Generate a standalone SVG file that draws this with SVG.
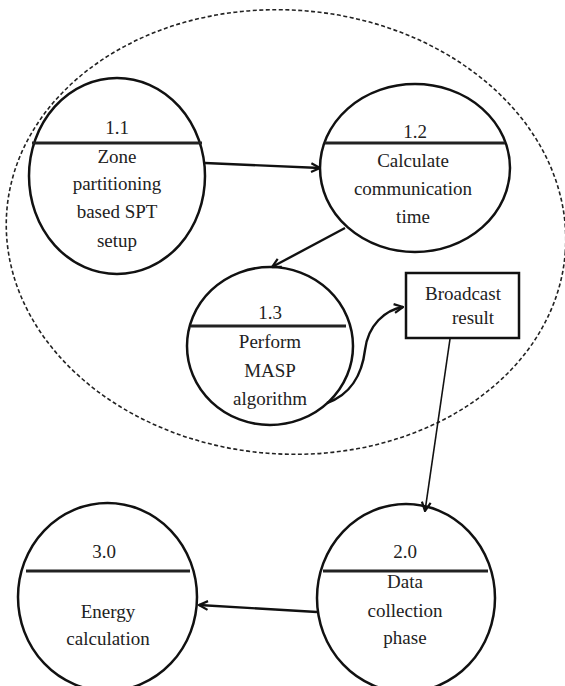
<svg xmlns="http://www.w3.org/2000/svg" width="565" height="686" viewBox="0 0 565 686">
<defs>
<style>
.proc{fill:none;stroke:#111;stroke-width:2.5}
.div{stroke:#222;stroke-width:3.2}
.t{font-size:19px;fill:#222;text-anchor:middle}
.c{fill:none;stroke:#111;stroke-width:2.4}
.thin{fill:none;stroke:#111;stroke-width:1.6}
.bound{fill:none;stroke:#222;stroke-width:1.6;stroke-dasharray:4 2.5}
</style>
<marker id="ah" viewBox="0 0 10 10" refX="9" refY="5" markerWidth="11" markerHeight="11" markerUnits="userSpaceOnUse" orient="auto">
<path d="M1,1 L9,5 L1,9" fill="none" stroke="#111" stroke-width="2"/>
</marker>
</defs>
<rect width="565" height="686" fill="#fff"/>
<g id="boundary">
<ellipse class="bound" cx="286" cy="232" rx="280" ry="222" transform="rotate(4 286 232)"/>
</g>
<g font-family="Liberation Serif, Times New Roman, DejaVu Serif, serif">
<g id="p1_1">
<ellipse class="proc" cx="117" cy="176" rx="88" ry="98"/>
<line class="div" x1="32" y1="143" x2="202" y2="143"/>
<text class="t" x="117" y="134">1.1</text>
<text class="t" x="117" y="163">Zone</text>
<text class="t" x="117" y="190">partitioning</text>
<text class="t" x="117" y="218">based SPT</text>
<text class="t" x="117" y="247">setup</text>
</g>
<g id="p1_2">
<ellipse class="proc" cx="415" cy="168" rx="95" ry="84"/>
<line class="div" x1="325" y1="143" x2="505" y2="143"/>
<text class="t" x="415" y="138">1.2</text>
<text class="t" x="413" y="167">Calculate</text>
<text class="t" x="413" y="195">communication</text>
<text class="t" x="413" y="223">time</text>
</g>
<g id="p1_3">
<ellipse class="proc" cx="270" cy="346" rx="83" ry="79"/>
<line class="div" x1="191" y1="326" x2="346" y2="326"/>
<text class="t" x="270" y="319">1.3</text>
<text class="t" x="270" y="348">Perform</text>
<text class="t" x="270" y="377">MASP</text>
<text class="t" x="270" y="405">algorithm</text>
</g>
<g id="broadcast">
<rect class="proc" x="406" y="273" width="113" height="65"/>
<text class="t" x="463" y="300">Broadcast</text>
<text class="t" x="473" y="324">result</text>
</g>
<g id="p2_0">
<ellipse class="proc" cx="406" cy="598" rx="89" ry="94"/>
<line class="div" x1="323" y1="571" x2="488" y2="571"/>
<text class="t" x="405" y="558">2.0</text>
<text class="t" x="405" y="588">Data</text>
<text class="t" x="405" y="617">collection</text>
<text class="t" x="405" y="644">phase</text>
</g>
<g id="p3_0">
<ellipse class="proc" cx="107.5" cy="597" rx="89.5" ry="94"/>
<line class="div" x1="26" y1="571" x2="190" y2="571"/>
<text class="t" x="104" y="558">3.0</text>
<text class="t" x="108" y="618">Energy</text>
<text class="t" x="108" y="645">calculation</text>
</g>
</g>
<g id="connectors">
<line class="c" x1="205" y1="163" x2="320" y2="168" marker-end="url(#ah)"/>
<line class="c" x1="345" y1="228" x2="272" y2="267" marker-end="url(#ah)"/>
<path class="c" d="M327 403 C350 395 362 375 365 350 C368 325 385 310 403 307" marker-end="url(#ah)"/>
<line class="thin" x1="450" y1="339" x2="425" y2="511" marker-end="url(#ah)"/>
<line class="c" x1="317" y1="612" x2="199" y2="605" marker-end="url(#ah)"/>
</g>
</svg>
